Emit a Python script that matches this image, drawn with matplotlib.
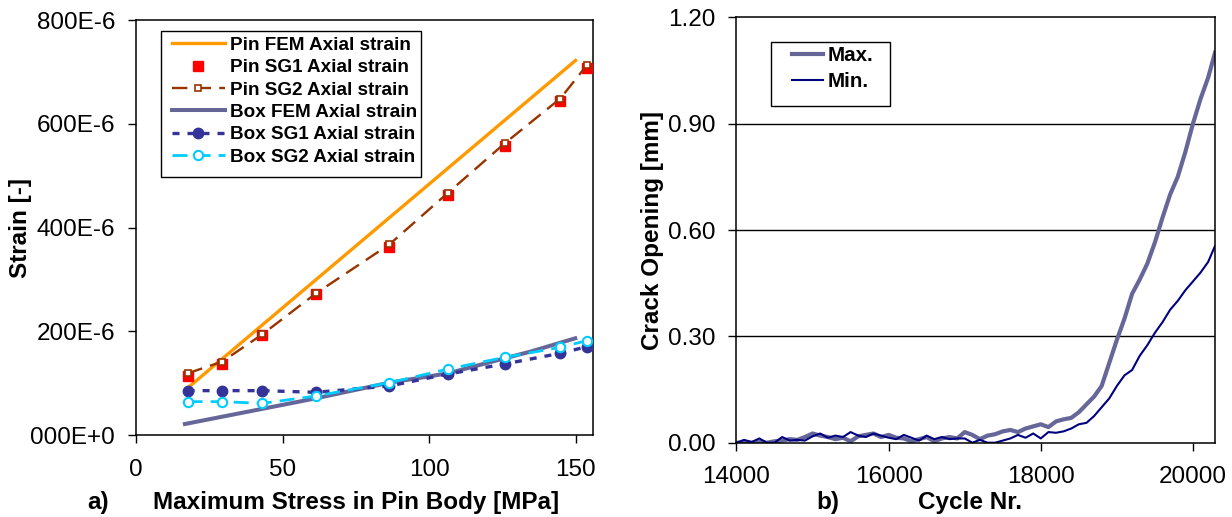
import matplotlib
matplotlib.use('Agg')
import matplotlib.pyplot as plt
from matplotlib.patches import Rectangle

# a) strain vs stress
stress = [17.6, 29.4, 43.1, 61.4, 86.5, 106.5, 125.8, 144.8, 153.9]
pin_sg1 = [113.7, 136.9, 192.8, 271.9, 363.1, 462.7, 557.8, 644.6, 706.9]
pin_sg2 = [118.9, 141.4, 194.0, 273.0, 367.5, 467.0, 562.0, 648.6, 713.0]
box_sg1 = [85.5, 85.5, 85.5, 82.3, 94.5, 117.6, 136.9, 157.5, 170.3]
box_sg2 = [64.3, 64.3, 61.0, 75.2, 100.9, 127.2, 149.7, 169.0, 181.9]
pin_fem_x = [17.5, 150.0]
pin_fem = [90.0, 722.0]
box_fem_x = [16.7, 61.4, 86.5, 106.5, 125.8, 134.6, 149.9]
box_fem = [21.2, 70.7, 100.9, 118.9, 147.8, 160.7, 186.4]
strain_ticks = [0, 200, 400, 600, 800]
strain_labels = ['000E+0', '200E-6', '400E-6', '600E-6', '800E-6']

# b) crack opening vs cycles
cycles = list(range(14000, 20300, 100)) + [20290]
max_mm = [0.000, 0.000, 0.000, 0.002, 0.000, 0.004, 0.006, 0.010, 0.008, 0.016,
          0.026, 0.020, 0.016, 0.010, 0.014, 0.004, 0.018, 0.022, 0.026, 0.016,
          0.022, 0.014, 0.012, 0.004, 0.010, 0.016, 0.004, 0.012, 0.016, 0.012,
          0.030, 0.022, 0.010, 0.020, 0.024, 0.032, 0.036, 0.030, 0.040, 0.046,
          0.052, 0.044, 0.060, 0.066, 0.070, 0.086, 0.108, 0.130, 0.160, 0.225,
          0.290, 0.350, 0.420, 0.460, 0.505, 0.565, 0.635, 0.700, 0.750, 0.820,
          0.900, 0.970, 1.030, 1.100]
min_mm = [0.000, 0.008, 0.002, 0.012, 0.000, 0.000, 0.016, 0.006, 0.008, 0.006,
          0.018, 0.026, 0.014, 0.020, 0.016, 0.030, 0.020, 0.016, 0.026, 0.020,
          0.014, 0.010, 0.022, 0.014, 0.006, 0.020, 0.010, 0.016, 0.010, 0.012,
          0.012, 0.000, 0.008, 0.000, 0.000, 0.006, 0.012, 0.022, 0.014, 0.026,
          0.012, 0.030, 0.028, 0.032, 0.040, 0.052, 0.056, 0.075, 0.100, 0.125,
          0.160, 0.190, 0.205, 0.245, 0.275, 0.310, 0.340, 0.375, 0.400, 0.430,
          0.455, 0.480, 0.510, 0.555]

plt.rcParams['font.family'] = ['Liberation Sans', 'DejaVu Sans']

fig = plt.figure(figsize=(12.32, 5.17), dpi=100)
ax1 = fig.add_axes([0.1104, 0.1586, 0.371, 0.8027])
ax2 = fig.add_axes([0.5978, 0.1437, 0.3884, 0.8228])

# --- left panel
ax1.plot(pin_fem_x, [v * 1e-6 for v in pin_fem], color='#FF9900', lw=2.4,
         label='Pin FEM Axial strain', zorder=2)
ax1.plot(stress, [v * 1e-6 for v in pin_sg1], ls='none', marker='s', ms=7.4,
         color='#FF0000', label='Pin SG1 Axial strain', zorder=3)
ax1.plot(stress, [v * 1e-6 for v in pin_sg2], color='#993300', lw=1.7,
         dashes=(6.5, 3.5), marker='s', ms=5.0, mfc='white', mec='#993300',
         mew=1.2, label='Pin SG2 Axial strain', zorder=4)
ax1.plot(box_fem_x, [v * 1e-6 for v in box_fem], color='#666699', lw=2.9,
         label='Box FEM Axial strain', zorder=2)
ax1.plot(stress, [v * 1e-6 for v in box_sg1], color='#333399', lw=2.4,
         dashes=(2.1, 2.4), marker='o', ms=7.5, label='Box SG1 Axial strain',
         zorder=3)
ax1.plot(stress, [v * 1e-6 for v in box_sg2], color='#00CCFF', lw=2.0,
         dashes=(5.4, 2.9), marker='o', ms=6.7, mfc='white', mec='#00CCFF',
         mew=1.5, label='Box SG2 Axial strain', zorder=4)

ax1.set_xlim(0, 156)
ax1.set_ylim(0, 800e-6)
ax1.set_xticks([0, 50, 100, 150])
ax1.set_yticks([v * 1e-6 for v in strain_ticks])
ax1.set_yticklabels(strain_labels)

leg1 = ax1.legend(loc='upper left', bbox_to_anchor=(0.1396, 0.929),
                  bbox_transform=fig.transFigure, frameon=False, borderpad=0,
                  borderaxespad=0, handlelength=2.8, handletextpad=0.28,
                  labelspacing=0.27, numpoints=1,
                  prop={'weight': 'bold', 'size': 13.6})
fig.add_artist(Rectangle((0.1307, 0.6576), 0.211, 0.2824, transform=fig.transFigure,
                         fill=False, ec='black', lw=1.0))

# --- right panel
ax2.plot(cycles, max_mm, color='#666699', lw=3.0, label='Max.')
ax2.plot(cycles, min_mm, color='#000080', lw=1.5, label='Min.')
ax2.set_xlim(14000, 20290)
ax2.set_ylim(0, 1.2)
ax2.set_xticks([14000, 16000, 18000, 20000])
ax2.set_yticks([0, 0.3, 0.6, 0.9, 1.2])
ax2.set_yticklabels(['0.00', '0.30', '0.60', '0.90', '1.20'])
for g in [0.3, 0.6, 0.9]:
    ax2.axhline(g, color='black', lw=1.0, zorder=1)

leg2 = ax2.legend(loc='upper left', bbox_to_anchor=(0.6429, 0.911),
                  bbox_transform=fig.transFigure, frameon=False, borderpad=0,
                  borderaxespad=0, handlelength=1.5, handletextpad=0.25,
                  labelspacing=0.35, prop={'weight': 'bold', 'size': 14.8})
fig.add_artist(Rectangle((0.6258, 0.7955), 0.0962, 0.1238, transform=fig.transFigure,
                         fill=False, ec='black', lw=1.0))

for ax in (ax1, ax2):
    ax.tick_params(direction='out', length=6, width=1, labelsize=17.5, pad=9,
                   color='black')
    ax.tick_params(axis='x', pad=11)
    for s in ax.spines.values():
        s.set_linewidth(1.1)

# axis titles
fig.text(98 / 1232, 1 - 503 / 517, 'a)', fontsize=17.5, weight='bold',
         ha='center', va='center')
fig.text(356 / 1232, 1 - 503 / 517, 'Maximum Stress in Pin Body [MPa]',
         fontsize=17.5, weight='bold', ha='center', va='center')
fig.text(828 / 1232, 1 - 503 / 517, 'b)', fontsize=17.5, weight='bold',
         ha='center', va='center')
fig.text(970 / 1232, 1 - 503 / 517, 'Cycle Nr.', fontsize=17.5, weight='bold',
         ha='center', va='center')
fig.text(21 / 1232, 1 - 228 / 517, 'Strain [-]', fontsize=17.5, weight='bold',
         rotation=90, ha='center', va='center')
fig.text(652 / 1232, 1 - 231 / 517, 'Crack Opening [mm]', fontsize=17.5,
         weight='bold', rotation=90, ha='center', va='center')

fig.savefig('out.png', dpi=100)
